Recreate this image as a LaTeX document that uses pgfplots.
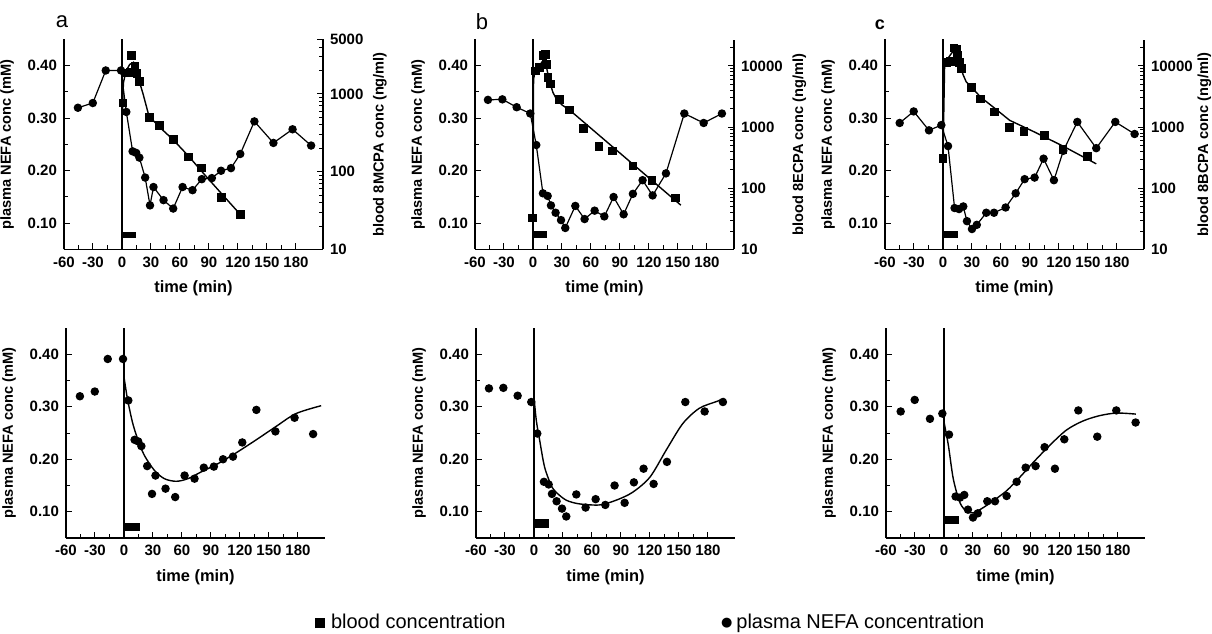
\documentclass[border=0pt]{standalone}
\usepackage{fontspec}
\setmainfont{Liberation Sans}
\newfontfamily\dejavu{DejaVu Sans}
\usepackage{pgfplots}
\usepackage{pgfplotstable}
\pgfplotsset{compat=1.18}

% plasma NEFA (mM), time in min
\pgfplotstableread{
t v
-45.6 0.320
-30.2 0.329
-16.8 0.391
-1 0.391
4.5 0.312
11 0.237
14.7 0.234
18 0.225
24 0.187
29 0.134
32.6 0.169
43 0.144
53 0.128
62.7 0.169
73 0.163
82.6 0.184
93 0.186
102.5 0.200
112.8 0.205
122.4 0.232
137 0.294
156.7 0.253
176.5 0.279
195.7 0.248
}\nefaA
\pgfplotstableread{
t v
-46.6 0.335
-31.7 0.336
-16.9 0.321
-2.8 0.309
3.4 0.249
10.3 0.157
15.2 0.152
18.6 0.134
23.4 0.120
29 0.106
33.4 0.091
43.8 0.133
53.4 0.108
63.8 0.124
73.8 0.113
83.4 0.150
93.8 0.117
103.4 0.156
113.4 0.182
123.8 0.153
137.6 0.195
156.6 0.309
176.6 0.291
195.5 0.309
}\nefaB
\pgfplotstableread{
t v
-44.8 0.291
-30.3 0.313
-14.5 0.277
-1.7 0.287
5.2 0.247
12 0.129
16.6 0.127
21 0.132
24.8 0.104
30 0.089
35 0.097
44.8 0.120
52.8 0.120
64.8 0.130
75.2 0.157
84.5 0.184
94.8 0.187
104.1 0.223
114.8 0.182
124.5 0.238
139 0.293
158.6 0.243
178.3 0.293
198.3 0.270
}\nefaC

% blood concentration (ng/ml)
\pgfplotstableread{
t c
1 770
5 1850
8 1900
10 3140
13.5 2300
15.5 1830
18 1440
28.4 500
38.7 396
53 262
68.7 155
82.3 112
102.9 47
122.4 28.5
}\bloodA
\pgfplotstableread{
t c
-0.7 33
2.4 8280
6.9 9420
10.3 14960
13 15500
13.8 10670
15.3 6500
17.9 5100
27.5 2850
37.9 1900
52.3 944
68.2 479
82.4 407
103.4 231
123.1 136
147.2 70
}\bloodB
\pgfplotstableread{
t c
0 310
3.4 11350
7.9 11750
11.4 19650
13.8 18900
14.8 14700
17.2 11350
18.9 9120
29.5 4470
38.9 2890
53.4 1780
69 1000
83.8 850
105 740
124 430
149.3 330
}\bloodC

% fitted curves
\pgfplotstableread{
t c
0.5 600
1.5 1390
4 1950
8 2390
12 2550
15 2040
18 1440
22 980
28 513
40 363
53 257
69 158
85 93
100 57.5
122.4 28.2
}\fitBA
\pgfplotstableread{
t c
0 40
0.6 6000
2 8000
6 9800
10 12000
12 12500
14 9500
16.2 6460
18 5000
20.7 3670
24.8 2780
30 2300
37.9 1900
153 53
}\fitBB
\pgfplotstableread{
t c
0 310
1.7 10700
5 13200
8.5 15800
11.5 18200
14.5 15100
17.5 10500
20.7 7250
24 5500
29.3 4470
39.7 3020
53.4 2040
69 1290
94.8 830
124.1 490
158.6 251
}\fitBC
\pgfplotstableread{
t v
0 0.357
3.5 0.316
8.7 0.271
13.9 0.240
20.9 0.208
31.4 0.179
41.8 0.163
54 0.158
66.2 0.163
80 0.176
97.6 0.192
115 0.211
136 0.236
157 0.262
178 0.287
204 0.302
}\fitNA
\pgfplotstableread{
t v
0 0.319
2.4 0.274
5.9 0.236
11 0.185
17.9 0.150
23 0.137
33.4 0.122
47 0.115
68 0.113
85 0.122
102 0.137
120 0.166
137 0.218
154 0.268
171 0.297
189 0.310
197 0.316
}\fitNB
\pgfplotstableread{
t v
0 0.271
4.5 0.227
9.7 0.162
16.6 0.117
23.4 0.101
30.3 0.098
39 0.106
51 0.121
64.8 0.140
78.6 0.166
92.4 0.194
109.7 0.227
127 0.256
144 0.273
161 0.283
178.6 0.288
198.6 0.286
}\fitNC

\pgfplotsset{
  /pgf/number format/assume math mode=true,
  panelbox/.style={
    width=129.5pt, height=105pt, scale only axis, anchor=south west,
    xmin=-60, xmax=208,
    tick align=inside, major tick length=3pt, minor tick length=2pt,
    tick style={black, line width=0.5pt},
    axis line style={line width=0.9pt},
    tick label style={font=\bfseries\fontsize{7.5}{8}\selectfont},
    label style={font=\bfseries\fontsize{7.3}{8}\selectfont},
    xlabel style={font=\bfseries\fontsize{8.2}{9}\selectfont},
    clip=false,
  },
  nefaaxis/.style={
    panelbox,
    ymin=0.05, ymax=0.45,
    axis x line*=bottom, axis y line*=left,
    xtick={-60,-30,0,30,60,90,120,150,180}, minor x tick num=1,
    ytick={0.1,0.2,0.3,0.4}, minor y tick num=1,
    yticklabel style={/pgf/number format/fixed, /pgf/number format/fixed zerofill, /pgf/number format/precision=2},
    xlabel={time (min)}, ylabel={plasma NEFA conc (mM)},
  },
  bloodaxis/.style={
    panelbox,
    axis y line*=right, axis x line=none,
  },
  circ/.style={black, line width=0.6pt, mark=*, mark size=1.8pt, mark options={solid, fill=black}},
  sq/.style={black, only marks, mark=square*, mark size=1.9pt},
  fitline/.style={black, line width=0.7pt, no marks},
}

\newcommand{\zeroline}{\addplot[black, line width=0.9pt, no marks] coordinates {(0,0.05) (0,0.45)};}

\begin{document}
\begin{tikzpicture}
\path[use as bounding box] (0,0) rectangle (606pt,316.5pt);

% ---------- top row ----------
% a
\begin{axis}[nefaaxis, at={(32pt,191.75pt)}]
\zeroline
\addplot[fill=black, draw=none] coordinates {(0,0.072) (15,0.072) (15,0.083) (0,0.083)} -- cycle;
\addplot[circ] table[x=t, y=v] {\nefaA};
\end{axis}
\begin{axis}[bloodaxis, ymode=log, at={(32pt,191.75pt)}, ymin=10, ymax=5000,
  ytick={10,100,1000,5000}, yticklabels={10,100,1000,5000},
  minor ytick={20,30,40,50,60,70,80,90,200,300,400,500,600,700,800,900,2000,3000,4000},
  ylabel={blood 8MCPA conc (ng/ml)}, ylabel shift=-2pt]
\addplot[sq] table[x=t, y=c] {\bloodA};
\addplot[fitline] table[x=t, y=c] {\fitBA};
\end{axis}

% b
\begin{axis}[nefaaxis, at={(237.5pt,191.75pt)}]
\zeroline
\addplot[fill=black, draw=none] coordinates {(0,0.072) (14.5,0.072) (14.5,0.086) (0,0.086)} -- cycle;
\addplot[circ] table[x=t, y=v] {\nefaB};
\end{axis}
\begin{axis}[bloodaxis, ymode=log, at={(237.5pt,191.75pt)}, ymin=10, ymax=27000,
  ytick={10,100,1000,10000}, yticklabels={10,100,1000,10000},
  minor ytick={20,30,40,50,60,70,80,90,200,300,400,500,600,700,800,900,2000,3000,4000,5000,6000,7000,8000,9000,20000},
  ylabel={blood 8ECPA conc (ng/ml)}, ylabel shift=-2pt]
\addplot[sq] table[x=t, y=c] {\bloodB};
\addplot[fitline] table[x=t, y=c] {\fitBB};
\end{axis}

% c
\begin{axis}[nefaaxis, at={(442.5pt,191.75pt)}]
\zeroline
\addplot[fill=black, draw=none] coordinates {(1,0.071) (15.5,0.071) (15.5,0.086) (1,0.086)} -- cycle;
\addplot[circ] table[x=t, y=v] {\nefaC};
\end{axis}
\begin{axis}[bloodaxis, ymode=log, at={(442.5pt,191.75pt)}, ymin=10, ymax=27000,
  ytick={10,100,1000,10000}, yticklabels={10,100,1000,10000},
  minor ytick={20,30,40,50,60,70,80,90,200,300,400,500,600,700,800,900,2000,3000,4000,5000,6000,7000,8000,9000,20000},
  ylabel={blood 8BCPA conc (ng/ml)}, ylabel shift=-4.5pt]
\addplot[sq] table[x=t, y=c] {\bloodC};
\addplot[fitline] table[x=t, y=c] {\fitBC};
\end{axis}

% ---------- bottom row ----------
\begin{axis}[nefaaxis, at={(33pt,47.5pt)}]
\zeroline
\addplot[fill=black, draw=none] coordinates {(0.7,0.064) (16.5,0.064) (16.5,0.078) (0.7,0.078)} -- cycle;
\addplot[circ, only marks] table[x=t, y=v] {\nefaA};
\addplot[fitline, smooth] table[x=t, y=v] {\fitNA};
\end{axis}
\begin{axis}[nefaaxis, at={(238pt,47.5pt)}]
\zeroline
\addplot[fill=black, draw=none] coordinates {(0.7,0.070) (15.5,0.070) (15.5,0.087) (0.7,0.087)} -- cycle;
\addplot[circ, only marks] table[x=t, y=v] {\nefaB};
\addplot[fitline, smooth] table[x=t, y=v] {\fitNB};
\end{axis}
\begin{axis}[nefaaxis, at={(443pt,47.5pt)}]
\zeroline
\addplot[fill=black, draw=none] coordinates {(0.5,0.077) (15.9,0.077) (15.9,0.091) (0.5,0.091)} -- cycle;
\addplot[circ, only marks] table[x=t, y=v] {\nefaC};
\addplot[fitline, smooth] table[x=t, y=v] {\fitNC};
\end{axis}

% panel letters
\node[font=\fontsize{11}{12}\selectfont, anchor=center] at (31pt,305.5pt) {a};
\node[font=\fontsize{11}{12}\selectfont, anchor=center] at (241pt,305.5pt) {b};
\node[font=\bfseries\fontsize{9}{10}\selectfont, anchor=center] at (440pt,304pt) {c};

% legend
\node[font=\fontsize{10}{12}\selectfont, anchor=base west] at (154pt,2.5pt) {\rule{5pt}{5pt}\hspace{3pt}blood concentration};
\node[font=\fontsize{10}{12}\selectfont, anchor=base west] at (357pt,2.5pt) {{\dejavu\fontsize{6.5}{8}\selectfont\raisebox{0.6pt}{●}}\hspace{2pt}plasma NEFA concentration};
\end{tikzpicture}
\end{document}
